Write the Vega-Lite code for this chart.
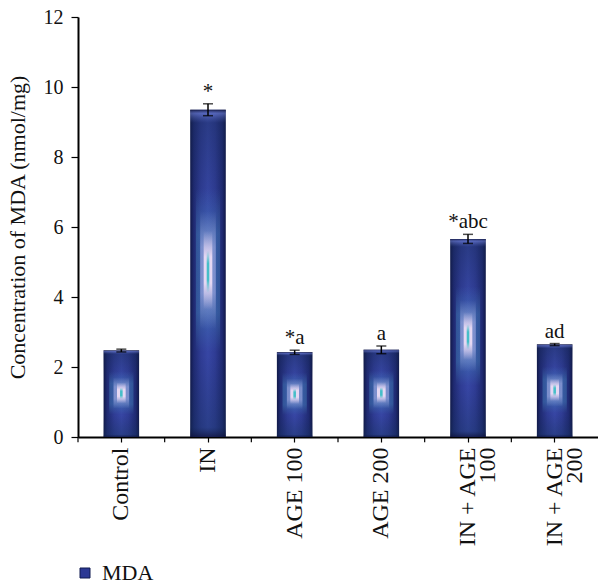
{
  "$schema": "https://vega.github.io/schema/vega-lite/v6.json",
  "autosize": "none",
  "width": 520,
  "height": 420,
  "padding": {"left": 78, "top": 17, "right": 0, "bottom": 151},
  "background": "white",
  "config": {
    "view": {"stroke": null},
    "font": "Liberation Serif",
    "axis": {"labelFont": "Liberation Serif", "titleFont": "Liberation Serif", "labelColor": "#111", "titleColor": "#111", "domainColor": "#000", "tickColor": "#000", "grid": false}
  },
  "data": {"values": [
    {"group": "Control", "value": 2.47, "lo": 2.43, "hi": 2.51, "sig": ""},
    {"group": "IN", "value": 9.35, "lo": 9.18, "hi": 9.52, "sig": "*"},
    {"group": "AGE 100", "value": 2.42, "lo": 2.36, "hi": 2.48, "sig": "*a"},
    {"group": "AGE 200", "value": 2.49, "lo": 2.38, "hi": 2.6, "sig": "a"},
    {"group": "IN + AGE\n100", "value": 5.66, "lo": 5.53, "hi": 5.79, "sig": "*abc"},
    {"group": "IN + AGE\n200", "value": 2.64, "lo": 2.61, "hi": 2.67, "sig": "ad"}
  ]},
  "encoding": {
    "x": {"field": "group", "type": "nominal", "sort": null,
      "scale": {"paddingInner": 0, "paddingOuter": 0},
      "axis": {"title": null, "labelAngle": -90, "labelFontSize": 24, "labelPadding": 5, "tickSize": 5, "tickWidth": 1.2, "domainWidth": 2, "labelExpr": "split(datum.label, '\\n')", "labelLineHeight": 20}}
  },
  "layer": [
    {
      "mark": {"type": "bar", "width": {"band": 0.41},
        "color": {"gradient": "linear", "x1": 0, "y1": 0, "x2": 1, "y2": 0, "stops": [
          {"offset": 0, "color": "#111848"},
          {"offset": 0.1, "color": "#1f2a72"},
          {"offset": 0.3, "color": "#2f3c94"},
          {"offset": 0.5, "color": "#3746a4"},
          {"offset": 0.7, "color": "#2f3c94"},
          {"offset": 0.9, "color": "#1f2a72"},
          {"offset": 1, "color": "#111848"}]}},
      "encoding": {
        "y": {"field": "value", "type": "quantitative", "scale": {"domain": [0, 12]},
          "axis": {"title": "Concentration of MDA (nmol/mg)", "titleFontSize": 22, "titleFontWeight": "normal", "titlePadding": 14, "labelFontSize": 20, "values": [0, 2, 4, 6, 8, 10, 12], "tickSize": 7, "tickWidth": 1.2, "domainWidth": 2, "labelPadding": 8}}
      }
    },
    {
      "mark": {"type": "bar", "width": {"band": 0.41},
        "color": {"gradient": "linear", "x1": 0, "y1": 0, "x2": 0, "y2": 1, "stops": [
          {"offset": 0, "color": "rgba(15,20,60,0.9)"},
          {"offset": 0.012, "color": "rgba(120,140,220,0.5)"},
          {"offset": 0.04, "color": "rgba(20,40,80,0.35)"},
          {"offset": 0.3, "color": "rgba(20,40,80,0)"},
          {"offset": 0.75, "color": "rgba(20,40,80,0)"},
          {"offset": 0.97, "color": "rgba(20,50,90,0.35)"},
          {"offset": 1, "color": "rgba(15,20,60,0.8)"}]}},
      "encoding": {
        "y": {"field": "value", "type": "quantitative", "scale": {"domain": [0, 12]},
          "axis": {"title": "Concentration of MDA (nmol/mg)", "titleFontSize": 22, "titleFontWeight": "normal", "titlePadding": 14, "labelFontSize": 20, "values": [0, 2, 4, 6, 8, 10, 12], "tickSize": 7, "tickWidth": 1.2, "domainWidth": 2, "labelPadding": 8}}
      }
    },
    {
      "mark": {"type": "bar", "width": {"band": 0.28},
        "color": {"gradient": "linear", "x1": 0, "y1": 0, "x2": 0, "y2": 1, "stops": [
          {"offset": 0, "color": "rgba(70,140,190,0)"},
          {"offset": 0.24, "color": "rgba(70,140,190,0)"},
          {"offset": 0.38, "color": "rgba(70,140,190,0.4)"},
          {"offset": 0.62, "color": "rgba(70,140,190,0.4)"},
          {"offset": 0.74, "color": "rgba(70,140,190,0)"},
          {"offset": 1, "color": "rgba(70,140,190,0)"}]}},
      "encoding": {
        "y": {"field": "value", "type": "quantitative", "scale": {"domain": [0, 12]},
          "axis": {"title": "Concentration of MDA (nmol/mg)", "titleFontSize": 22, "titleFontWeight": "normal", "titlePadding": 14, "labelFontSize": 20, "values": [0, 2, 4, 6, 8, 10, 12], "tickSize": 7, "tickWidth": 1.2, "domainWidth": 2, "labelPadding": 8}}
      }
    },
    {
      "mark": {"type": "bar", "width": {"band": 0.18},
        "color": {"gradient": "linear", "x1": 0, "y1": 0, "x2": 0, "y2": 1, "stops": [
          {"offset": 0, "color": "rgba(160,170,225,0)"},
          {"offset": 0.31, "color": "rgba(160,170,225,0)"},
          {"offset": 0.42, "color": "rgba(160,170,225,0.65)"},
          {"offset": 0.56, "color": "rgba(160,170,225,0.65)"},
          {"offset": 0.67, "color": "rgba(160,170,225,0)"},
          {"offset": 1, "color": "rgba(160,170,225,0)"}]}},
      "encoding": {
        "y": {"field": "value", "type": "quantitative", "scale": {"domain": [0, 12]},
          "axis": {"title": "Concentration of MDA (nmol/mg)", "titleFontSize": 22, "titleFontWeight": "normal", "titlePadding": 14, "labelFontSize": 20, "values": [0, 2, 4, 6, 8, 10, 12], "tickSize": 7, "tickWidth": 1.2, "domainWidth": 2, "labelPadding": 8}}
      }
    },
    {
      "mark": {"type": "bar", "width": {"band": 0.1},
        "color": {"gradient": "linear", "x1": 0, "y1": 0, "x2": 0, "y2": 1, "stops": [
          {"offset": 0, "color": "rgba(235,220,245,0)"},
          {"offset": 0.37, "color": "rgba(235,220,245,0)"},
          {"offset": 0.45, "color": "rgba(235,220,245,0.95)"},
          {"offset": 0.53, "color": "rgba(235,220,245,0.95)"},
          {"offset": 0.61, "color": "rgba(235,220,245,0)"},
          {"offset": 1, "color": "rgba(235,220,245,0)"}]}},
      "encoding": {
        "y": {"field": "value", "type": "quantitative", "scale": {"domain": [0, 12]},
          "axis": {"title": "Concentration of MDA (nmol/mg)", "titleFontSize": 22, "titleFontWeight": "normal", "titlePadding": 14, "labelFontSize": 20, "values": [0, 2, 4, 6, 8, 10, 12], "tickSize": 7, "tickWidth": 1.2, "domainWidth": 2, "labelPadding": 8}}
      }
    },
    {
      "mark": {"type": "bar", "width": {"band": 0.03},
        "color": {"gradient": "linear", "x1": 0, "y1": 0, "x2": 0, "y2": 1, "stops": [
          {"offset": 0, "color": "rgba(70,190,200,0)"},
          {"offset": 0.43, "color": "rgba(70,190,200,0)"},
          {"offset": 0.47, "color": "rgba(70,190,200,1)"},
          {"offset": 0.52, "color": "rgba(70,190,200,1)"},
          {"offset": 0.56, "color": "rgba(70,190,200,0)"},
          {"offset": 1, "color": "rgba(70,190,200,0)"}]}},
      "encoding": {
        "y": {"field": "value", "type": "quantitative", "scale": {"domain": [0, 12]},
          "axis": {"title": "Concentration of MDA (nmol/mg)", "titleFontSize": 22, "titleFontWeight": "normal", "titlePadding": 14, "labelFontSize": 20, "values": [0, 2, 4, 6, 8, 10, 12], "tickSize": 7, "tickWidth": 1.2, "domainWidth": 2, "labelPadding": 8}}
      }
    },
    {
      "mark": {"type": "rule", "color": "#000", "strokeWidth": 1.5},
      "encoding": {
        "y": {"field": "lo", "type": "quantitative", "scale": {"domain": [0, 12]},
          "axis": {"title": "Concentration of MDA (nmol/mg)", "titleFontSize": 22, "titleFontWeight": "normal", "titlePadding": 14, "labelFontSize": 20, "values": [0, 2, 4, 6, 8, 10, 12], "tickSize": 7, "tickWidth": 1.2, "domainWidth": 2, "labelPadding": 8}},
        "y2": {"field": "hi"}
      }
    },
    {
      "mark": {"type": "tick", "color": "#000", "size": 10, "thickness": 1.5},
      "encoding": {
        "y": {"field": "lo", "type": "quantitative", "scale": {"domain": [0, 12]},
          "axis": {"title": "Concentration of MDA (nmol/mg)", "titleFontSize": 22, "titleFontWeight": "normal", "titlePadding": 14, "labelFontSize": 20, "values": [0, 2, 4, 6, 8, 10, 12], "tickSize": 7, "tickWidth": 1.2, "domainWidth": 2, "labelPadding": 8}}
      }
    },
    {
      "mark": {"type": "tick", "color": "#000", "size": 10, "thickness": 1.5},
      "encoding": {
        "y": {"field": "hi", "type": "quantitative", "scale": {"domain": [0, 12]},
          "axis": {"title": "Concentration of MDA (nmol/mg)", "titleFontSize": 22, "titleFontWeight": "normal", "titlePadding": 14, "labelFontSize": 20, "values": [0, 2, 4, 6, 8, 10, 12], "tickSize": 7, "tickWidth": 1.2, "domainWidth": 2, "labelPadding": 8}}
      }
    },
    {
      "mark": {"type": "text", "font": "Liberation Serif", "fontSize": 21, "color": "#111", "baseline": "bottom", "dy": -2},
      "encoding": {
        "y": {"field": "hi", "type": "quantitative", "scale": {"domain": [0, 12]},
          "axis": {"title": "Concentration of MDA (nmol/mg)", "titleFontSize": 22, "titleFontWeight": "normal", "titlePadding": 14, "labelFontSize": 20, "values": [0, 2, 4, 6, 8, 10, 12], "tickSize": 7, "tickWidth": 1.2, "domainWidth": 2, "labelPadding": 8}},
        "text": {"field": "sig"}
      }
    },
    {
      "mark": {"type": "rule", "color": "#000", "strokeWidth": 1.2},
      "encoding": {
        "x": {"field": "group", "type": "nominal", "sort": null, "bandPosition": 0},
        "y": {"datum": 0, "type": "quantitative", "scale": {"domain": [0, 12]},
          "axis": {"title": "Concentration of MDA (nmol/mg)", "titleFontSize": 22, "titleFontWeight": "normal", "titlePadding": 14, "labelFontSize": 20, "values": [0, 2, 4, 6, 8, 10, 12], "tickSize": 7, "tickWidth": 1.2, "domainWidth": 2, "labelPadding": 8}},
        "y2": {"datum": -0.15}
      }
    },
    {
      "mark": {"type": "square", "size": 100, "opacity": 0},
      "encoding": {
        "y": {"field": "value", "type": "quantitative", "scale": {"domain": [0, 12]},
          "axis": {"title": "Concentration of MDA (nmol/mg)", "titleFontSize": 22, "titleFontWeight": "normal", "titlePadding": 14, "labelFontSize": 20, "values": [0, 2, 4, 6, 8, 10, 12], "tickSize": 7, "tickWidth": 1.2, "domainWidth": 2, "labelPadding": 8}},
        "fill": {"datum": "MDA", "type": "nominal", "scale": {"range": ["#2b3894"]},
          "legend": {"title": null, "orient": "none", "legendX": -4, "legendY": 545, "labelFont": "Liberation Serif", "labelFontSize": 22, "labelColor": "#111", "labelOffset": 6, "symbolType": "square", "symbolSize": 100, "symbolOpacity": 1, "symbolStrokeColor": "#111a50", "symbolStrokeWidth": 1}}
      }
    }
  ]
}
